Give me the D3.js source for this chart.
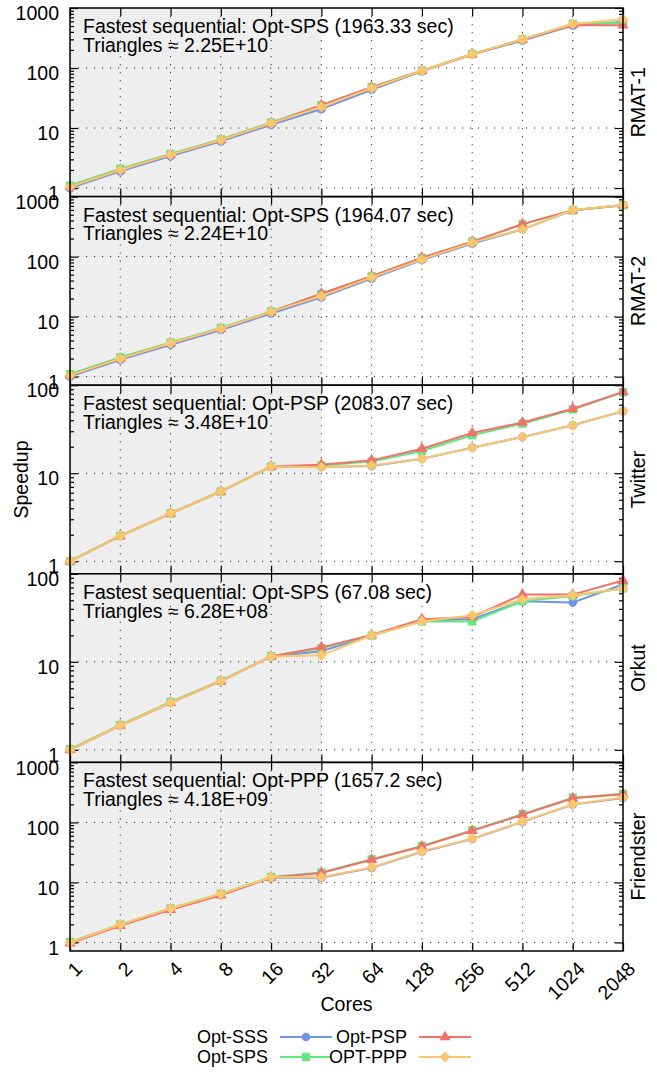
<!DOCTYPE html>
<html>
<head>
<meta charset="utf-8">
<script src="https://cdn.jsdelivr.net/npm/d3@7"></script>
<style>
body{margin:0;background:#fff;}
text{font-family:"Liberation Sans",Arial,Helvetica,sans-serif;fill:#000;}
</style>
</head>
<body>
<div id="okvir"></div>
<script>
// podaci
const cores = ["1","2","4","8","16","32","64","128","256","512","1024","2048"];
const grafovi = ["RMAT-1","RMAT-2","Twitter","Orkut","Friendster"];
const najbrzi = ["Fastest sequential: Opt-SPS (1963.33 sec)","Fastest sequential: Opt-SPS (1964.07 sec)",
  "Fastest sequential: Opt-PSP (2083.07 sec)","Fastest sequential: Opt-SPS (67.08 sec)","Fastest sequential: Opt-PPP (1657.2 sec)"];
const trokuti = ["Triangles \u2248 2.25E+10","Triangles \u2248 2.24E+10","Triangles \u2248 3.48E+10","Triangles \u2248 6.28E+08","Triangles \u2248 4.18E+09"];
const yMaks = [1000,1000,100,100,1000];
const serije = ["Opt-SSS","Opt-SPS","Opt-PSP","OPT-PPP"];
const boje = ["#7094e8","#5eea7d","#f4716b","#fcc66e"];

const rmat1_sss = [1.0,1.9,3.4,6.0,11.3,20.7,43.5,88,168,286,508,590];
const rmat1_sps = [1.1,2.1,3.7,6.5,12.4,24,48,91,172,300,545,560];
const rmat1_psp = [1.05,2.0,3.6,6.3,12.0,24,48,90,170,298,520,515];
const rmat1_ppp = [1.05,2.0,3.6,6.3,12.0,22.5,46,90,170,300,542,648];

const rmat2_sss = [1.0,1.9,3.4,6.0,11.3,21,43,88,165,285,590,720];
const rmat2_sps = [1.1,2.1,3.7,6.5,12.2,24,47,95,178,345,590,715];
const rmat2_psp = [1.05,2.0,3.6,6.3,12.0,24,47,96,178,348,595,725];
const rmat2_ppp = [1.05,2.0,3.6,6.3,12.0,22,45,90,171,286,598,725];

const twitter_sss = [1.0,1.94,3.49,6.2,11.9,11.8,12.1,14.6,19.5,25.8,35,50.7];
const twitter_sps = [1.0,1.94,3.49,6.2,11.9,12.2,13.6,17.9,27,36.5,53,83];
const twitter_psp = [1.0,1.94,3.49,6.2,11.9,12.5,14.0,19.0,28.6,37.7,54,84];
const twitter_ppp = [1.0,1.94,3.49,6.2,11.9,11.7,12.2,14.6,19.5,25.8,35,50.7];

const orkut_sss = [1.0,1.89,3.43,6.03,11.5,13.2,19.9,29.5,30.5,48.8,47.2,75.9];
const orkut_sps = [1.02,1.92,3.5,6.1,11.6,14.3,19.9,28.8,28.8,48.8,56,68.2];
const orkut_psp = [1.0,1.89,3.43,6.03,11.5,14.6,20.2,30.4,32.3,58.2,58,83.8];
const orkut_ppp = [1.0,1.89,3.43,6.03,11.5,11.9,19.9,28.8,33.8,51.4,57,68.2];

const friendster_sss = [1.0,1.95,3.6,6.3,12.0,12.0,17.5,32.5,53,102,198,255];
const friendster_sps = [1.02,2.0,3.7,6.5,12.3,14.6,24.3,40.5,74,137,258,300];
const friendster_psp = [0.97,1.9,3.5,6.1,12.1,14.4,23.9,39.8,72.5,134,253,295];
const friendster_ppp = [1.0,1.99,3.67,6.44,12.2,12.2,17.8,32.9,53.4,103.5,201,259];

const podaci = [
  [rmat1_sss,rmat1_sps,rmat1_psp,rmat1_ppp],
  [rmat2_sss,rmat2_sps,rmat2_psp,rmat2_ppp],
  [twitter_sss,twitter_sps,twitter_psp,twitter_ppp],
  [orkut_sss,orkut_sps,orkut_psp,orkut_ppp],
  [friendster_sss,friendster_sps,friendster_psp,friendster_ppp]
];

// dimenzije
const dim = {
  sirina: 657,
  visina: 1072,
  lijevo: 70,
  desno: 623,
  vrh: 8,
  visinaPanela: 188.6
};
const font = 19.5;

const okvir = d3.select("#okvir").append("svg")
  .attr("width", dim.sirina)
  .attr("height", dim.visina);

const xSkala = d3.scalePoint()
  .domain(cores)
  .range([dim.lijevo, dim.desno]);

const oblici = [
  d3.symbol().type(d3.symbolCircle).size(60),
  d3.symbol().type(d3.symbolSquare).size(68),
  d3.symbol().type(d3.symbolTriangle).size(55),
  d3.symbol().type(d3.symbolSquare).size(62)
];
const rotacija = [0,0,0,45];

grafovi.forEach((ime, p) => {
  const vrh = dim.vrh + p * dim.visinaPanela;
  const dno = vrh + dim.visinaPanela;
  const ySkala = d3.scaleLog()
    .domain([0.72, yMaks[p]])
    .range([dno, vrh]);
  const glavni = yMaks[p] === 1000 ? [1,10,100,1000] : [1,10,100];
  const sporedni = [];
  glavni.slice(0,-1).forEach(g => { for (let k = 2; k <= 9; k++) sporedni.push(g*k); });

  const g = okvir.append("g");

  // sivo podrucje 1..32
  g.append("rect")
    .attr("x", xSkala("1"))
    .attr("y", vrh)
    .attr("width", xSkala("32") - xSkala("1"))
    .attr("height", dim.visinaPanela)
    .attr("fill", "#eeeeee");

  // mreza
  g.selectAll(".hgrid").data(glavni.filter(v => v < yMaks[p] && v > 0.72)).join("line")
    .attr("x1", dim.lijevo).attr("x2", dim.desno)
    .attr("y1", d => ySkala(d)).attr("y2", d => ySkala(d))
    .attr("stroke", "#333").attr("stroke-width", 1).attr("stroke-dasharray", "1.2,6.8");
  g.selectAll(".vgrid").data(cores.slice(1, -1)).join("line")
    .attr("x1", d => xSkala(d)).attr("x2", d => xSkala(d))
    .attr("y1", vrh).attr("y2", dno)
    .attr("stroke", "#333").attr("stroke-width", 1).attr("stroke-dasharray", "1.2,6.8");

  // osi
  const lijevaOs = g.append("g")
    .attr("transform", `translate(${dim.lijevo},0)`)
    .call(d3.axisLeft(ySkala).tickValues(glavni).tickSize(-8).tickPadding(11).tickFormat(d3.format("d")));
  lijevaOs.selectAll("text").attr("font-size", font).attr("font-family", null).attr("dy", "0.6em");
  g.append("g").attr("transform", `translate(${dim.lijevo},0)`)
    .call(d3.axisLeft(ySkala).tickValues(sporedni).tickSize(-4).tickFormat(""));
  g.append("g").attr("transform", `translate(${dim.desno},0)`)
    .call(d3.axisRight(ySkala).tickValues(glavni).tickSize(-8).tickFormat(""));
  g.append("g").attr("transform", `translate(${dim.desno},0)`)
    .call(d3.axisRight(ySkala).tickValues(sporedni).tickSize(-4).tickFormat(""));
  g.append("g").attr("transform", `translate(0,${vrh})`)
    .call(d3.axisTop(xSkala).tickSize(-8).tickFormat(""));
  const donjaOs = g.append("g").attr("transform", `translate(0,${dno})`)
    .call(d3.axisBottom(xSkala).tickSize(-8).tickFormat(p === grafovi.length - 1 ? null : ""));
  g.selectAll(".domain").remove();
  g.selectAll(".tick line").attr("stroke", "#000").attr("stroke-width", 1.2);

  if (p === grafovi.length - 1) {
    donjaOs.selectAll("text")
      .attr("font-size", font).attr("font-family", null)
      .attr("y", 0).attr("dy", 0)
      .attr("text-anchor", "end")
      .attr("transform", "translate(13,19) rotate(-45)");
  }

  // linije
  const linija = d3.line()
    .x((d, i) => xSkala(cores[i]))
    .y(d => ySkala(d));
  podaci[p].forEach((s, si) => {
    g.append("path")
      .datum(s)
      .attr("d", linija)
      .attr("fill", "none")
      .attr("stroke", boje[si])
      .attr("stroke-width", 2);
    g.selectAll(".m" + si).data(s).join("path")
      .attr("transform", (d, i) => `translate(${xSkala(cores[i])},${ySkala(d)}) rotate(${rotacija[si]})`)
      .attr("d", oblici[si])
      .attr("fill", boje[si]);
  });

  // okvir panela
  g.append("rect")
    .attr("x", dim.lijevo).attr("y", vrh)
    .attr("width", dim.desno - dim.lijevo).attr("height", dim.visinaPanela)
    .attr("fill", "none").attr("stroke", "#000").attr("stroke-width", 1.5);

  // tekst
  g.append("text").attr("x", 83).attr("y", vrh + 25).attr("font-size", font).text(najbrzi[p]);
  g.append("text").attr("x", 83).attr("y", vrh + 43.7).attr("font-size", font).text(trokuti[p]);
  g.append("text")
    .attr("transform", `translate(645,${(vrh + dno) / 2}) rotate(-90)`)
    .attr("text-anchor", "middle")
    .attr("font-size", font)
    .text(ime);
});

// naslovi osi
const sredinaY = dim.vrh + grafovi.length * dim.visinaPanela / 2;
okvir.append("text")
  .attr("transform", `translate(28,${sredinaY}) rotate(-90)`)
  .attr("text-anchor", "middle")
  .attr("font-size", font)
  .text("Speedup");
okvir.append("text")
  .attr("x", (dim.lijevo + dim.desno) / 2)
  .attr("y", 1011)
  .attr("text-anchor", "middle")
  .attr("font-size", font)
  .text("Cores");

// legenda (stupci: SSS/SPS, PSP/PPP)
const legX = [268, 407];
const legY = [1037, 1057];
serije.forEach((s, si) => {
  const stupac = si < 2 ? 0 : 1;
  const red = si % 2;
  const lx = legX[stupac];
  const ly = legY[red];
  okvir.append("text")
    .attr("x", lx).attr("y", ly).attr("dy", "0.35em")
    .attr("text-anchor", "end")
    .attr("font-size", 18)
    .text(s);
  okvir.append("line")
    .attr("x1", lx + 12).attr("x2", lx + 64)
    .attr("y1", ly).attr("y2", ly)
    .attr("stroke", boje[si]).attr("stroke-width", 2);
  okvir.append("path")
    .attr("transform", `translate(${lx + 38},${ly}) rotate(${rotacija[si]})`)
    .attr("d", oblici[si])
    .attr("fill", boje[si]);
});
</script>
</body>
</html>
